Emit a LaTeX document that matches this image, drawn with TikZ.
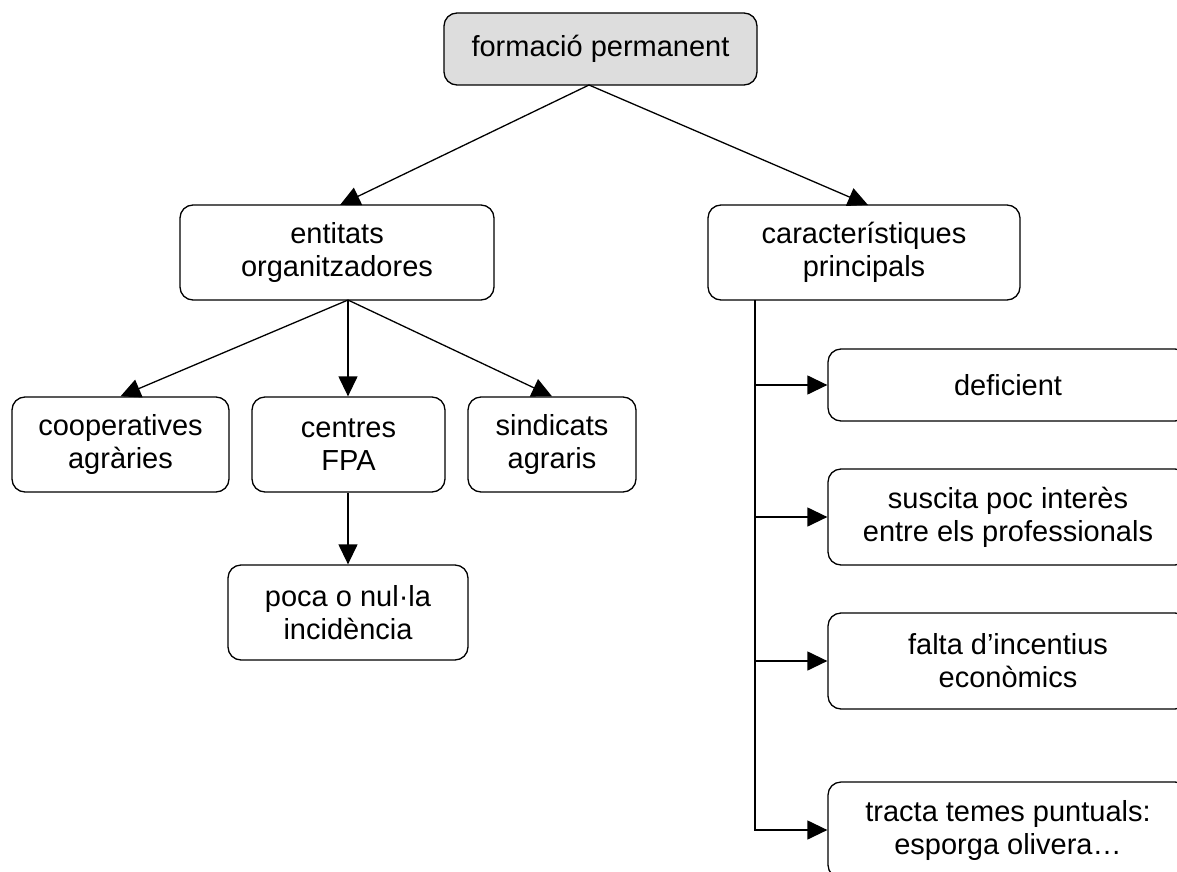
\documentclass[tikz,border=0pt]{standalone}
\usepackage{fontspec}
\setmainfont{Liberation Sans}
\usetikzlibrary{arrows.meta}
\definecolor{topgray}{RGB}{221,221,221}
\begin{document}
\begin{tikzpicture}[x=1pt,y=-1pt,
  box/.style={draw=black,line width=1.3pt,rounded corners=13pt,align=center,
    font=\fontsize{29}{33}\selectfont,inner sep=0pt,fill=white},
  conn/.style={line width=1.3pt,-{Triangle[length=20pt,width=19pt]}},
  plain/.style={line width=1.3pt}]
\useasboundingbox (0,0) rectangle (1177,872);
\clip (0,0) rectangle (1177,872);
\node[box,fill=topgray,minimum width=313pt,minimum height=72pt] (top) at (600.5,49) {formació permanent};
\node[box,minimum width=314pt,minimum height=95pt] (ent) at (337,252.5) {entitats\\organitzadores};
\node[box,minimum width=312pt,minimum height=95pt] (car) at (864,252.5) {característiques\\principals};
\node[box,minimum width=217pt,minimum height=95pt] (coop) at (120.5,444.5) {cooperatives\\agràries};
\node[box,minimum width=193pt,minimum height=95pt] (cent) at (348.5,444.5) {centres\\FPA};
\node[box,minimum width=168pt,minimum height=95pt] (sind) at (552,444.5) {sindicats\\agraris};
\node[box,minimum width=240pt,minimum height=95pt] (poca) at (348,612.5) {poca o nul·la\\incidència};
\node[box,minimum width=360pt,minimum height=72pt] (def) at (1008,385) {deficient};
\node[box,minimum width=360pt,minimum height=96pt] (sus) at (1008,517) {suscita poc interès\\entre els professionals};
\node[box,minimum width=360pt,minimum height=96pt] (fal) at (1008,661) {falta d’incentius\\econòmics};
\node[box,minimum width=360pt,minimum height=96pt] (tra) at (1008,830) {tracta temes puntuals:\\esporga olivera…};
\coordinate (topb) at (589,85);
\coordinate (entb) at (348,300);
\coordinate (carb) at (755,300);
\draw[conn] (topb) -- (340,205) coordinate (entt);
\draw[conn] (topb) -- (868,205) coordinate (cart);
\draw[conn] (entb) -- (coop.north);
\draw[conn] (entb) -- (cent.north -| entb);
\draw[conn] (entb) -- (sind.north);
\draw[conn] (cent.south -| poca.north) -- (poca.north);
\draw[conn] (carb) |- (tra.west);
\draw[conn] (carb |- def.west) -- (def.west);
\draw[conn] (carb |- sus.west) -- (sus.west);
\draw[conn] (carb |- fal.west) -- (fal.west);
\end{tikzpicture}
\end{document}
